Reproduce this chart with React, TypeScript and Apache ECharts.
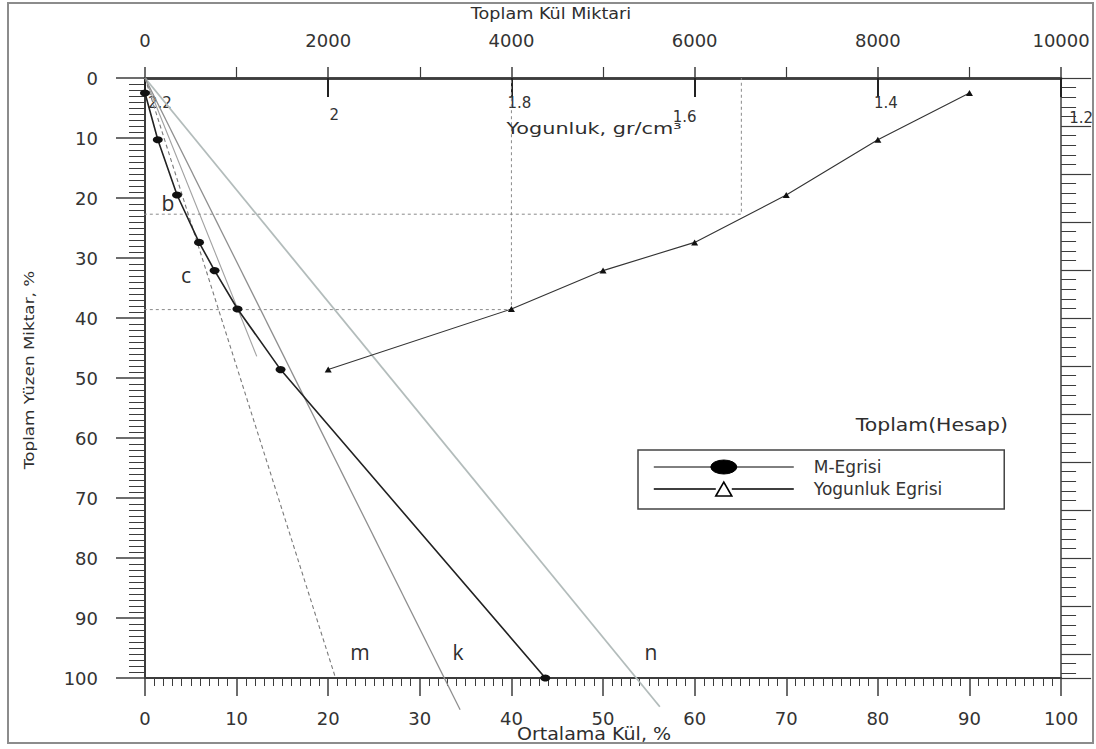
import React, { useEffect, useRef } from "react";
import * as echarts from "echarts";

// M-Egrisi (Ortalama Kül %, Toplam Yüzen Miktar %)
const mAsh = [0, 1.4, 3.5, 5.9, 7.6, 10.1, 14.8, 43.7];
const mFloat = [2.5, 10.3, 19.5, 27.4, 32.1, 38.5, 48.6, 100];
// Yogunluk Egrisi (Toplam Kül Miktari, Toplam Yüzen Miktar %)
const dAsh = [9000, 8000, 7000, 6000, 5000, 4000, 2000];
const dFloat = [2.5, 10.3, 19.5, 27.4, 32.1, 38.5, 48.6];
// density tick labels
const densityTicks = [2.2, 2.0, 1.8, 1.6, 1.4, 1.2];
// straight construction lines m, k, n and tangent
const lineM = [[0, 0], [20.8, 100]];
const lineK = [[0, 0], [34.4, 105.3]];
const lineN = [[0, 0], [56.2, 104.8]];
const lineT = [[0, 0], [12.2, 46.4]];
// dashed guides (Toplam Kül Miktari, %)
const guide1 = [[-930, 22.7], [6510, 22.7], [6510, 0]];
const guide2 = [[-930, 38.6], [4000, 38.6], [4000, 0]];

const AX = "#3c3c3c";
const FONT = "DejaVu Sans";
const lbl = { color: "#333", fontFamily: FONT, fontSize: 18 };

const densityRich: any = {
  r0: { padding: [0, 0, 0, 30], fontSize: 15, fontFamily: FONT, color: "#333" },
  r1: { padding: [12, 0, 0, 12], fontSize: 15, fontFamily: FONT, color: "#333" },
  r2: { padding: [0, 0, 0, 16], fontSize: 15, fontFamily: FONT, color: "#333" },
  r3: { padding: [14, 20, 0, 0], fontSize: 15, fontFamily: FONT, color: "#333" },
  r4: { padding: [0, 0, 0, 16], fontSize: 15, fontFamily: FONT, color: "#333" },
  r5: { padding: [15, 0, 0, 40], fontSize: 15, fontFamily: FONT, color: "#333" },
};

function txt(text: string, x: number, y: number, size: number, align: string, extra: any = {}) {
  return {
    type: "text",
    x,
    y,
    z: 100,
    ...extra,
    style: {
      text,
      fill: "#2e2e2e",
      font: `${size}px "${extra.family || FONT}"`,
      textAlign: align,
      textVerticalAlign: "middle",
      align,
      verticalAlign: "middle",
    },
  };
}

export default function App() {
  const ref = useRef<HTMLDivElement>(null);
  useEffect(() => {
    if (!ref.current) return;
    const chart = echarts.init(ref.current, null, { renderer: "svg" });
    const grayLine = (name: string, data: number[][], color: string, width: number, type: any = "solid") => ({
      name,
      type: "line",
      data,
      xAxisIndex: 0,
      yAxisIndex: 0,
      symbol: "none",
      clip: false,
      silent: true,
      z: 1,
      lineStyle: { color, width, type },
    });
    const plain = (v: number) => String(v);
    const option: any = {
      animation: false,
      backgroundColor: "#fff",
      grid: { left: 145, top: 78, width: 917, height: 600, containLabel: false },
      xAxis: [
        {
          type: "value",
          position: "bottom",
          min: 0,
          max: 100,
          interval: 10,
          axisLine: { show: true, onZero: false, lineStyle: { color: AX, width: 2 } },
          axisTick: { show: true, length: 18, lineStyle: { color: AX, width: 1.5 } },
          minorTick: { show: true, splitNumber: 10, length: 8, lineStyle: { color: AX, width: 1 } },
          axisLabel: { ...lbl, margin: 31, formatter: plain },
          splitLine: { show: false },
        },
        {
          type: "value",
          position: "top",
          min: 0,
          max: 10000,
          interval: 2000,
          axisLine: { show: true, onZero: false, lineStyle: { color: AX, width: 2.5 } },
          axisTick: { show: true, length: 11, lineStyle: { color: AX, width: 1.5 } },
          minorTick: { show: true, splitNumber: 2, length: 11, lineStyle: { color: AX, width: 1.2 } },
          axisLabel: { ...lbl, margin: 29, formatter: plain },
          splitLine: { show: false },
        },
        {
          type: "value",
          position: "top",
          min: 1.2,
          max: 2.2,
          interval: 0.2,
          inverse: true,
          axisLine: { show: true, onZero: false, lineStyle: { color: AX, width: 2.5 } },
          axisTick: { show: true, inside: true, length: 19, lineStyle: { color: "#222", width: 2 } },
          splitLine: { show: false },
          axisLabel: {
            inside: true,
            margin: 17,
            interval: 0,
            showMinLabel: true,
            showMaxLabel: true,
            hideOverlap: false,
            fontSize: 15,
            fontFamily: FONT,
            color: "#333",
            rich: densityRich,
            formatter: (v: number) => {
              const i = densityTicks.findIndex((t) => Math.abs(t - v) < 1e-6);
              if (i < 0) return "";
              return `{r${i}|${String(densityTicks[i])}}`;
            },
          },
        },
      ],
      yAxis: [
        {
          type: "value",
          position: "left",
          inverse: true,
          min: 0,
          max: 100,
          interval: 10,
          axisLine: { show: true, onZero: false, lineStyle: { color: AX, width: 2 } },
          axisTick: { show: true, length: 29, lineStyle: { color: AX, width: 1.5 } },
          minorTick: { show: true, splitNumber: 10, length: 16, lineStyle: { color: AX, width: 1 } },
          axisLabel: { ...lbl, margin: 47, formatter: plain },
          splitLine: { show: false },
        },
        {
          type: "value",
          position: "right",
          inverse: true,
          min: 0,
          max: 100,
          interval: 8,
          axisLine: { show: true, onZero: false, lineStyle: { color: AX, width: 1.5 } },
          axisTick: { show: true, length: 30, lineStyle: { color: AX, width: 1.2 } },
          minorTick: { show: true, splitNumber: 5, length: 15, lineStyle: { color: AX, width: 1 } },
          axisLabel: { show: false },
          splitLine: { show: false },
        },
      ],
      legend: {
        data: [
          {
            name: "M-Egrisi",
            icon: "path://M0 7L58 7M82 7L140 7M57 7A13 7 0 1 0 83 7A13 7 0 1 0 57 7Z",
            itemStyle: { color: "#000", borderColor: "#000", borderWidth: 1 },
          },
          {
            name: "Yogunluk Egrisi",
            icon: "path://M0 7L62 7M78 7L140 7M62 13L70 1L78 13Z",
            itemStyle: { color: "#fff", borderColor: "#000", borderWidth: 1.6 },
          },
        ],
        orient: "vertical",
        left: 638,
        top: 450,
        itemWidth: 140,
        itemHeight: 14,
        itemGap: 4,
        symbolKeepAspect: false,
        selectedMode: false,
        padding: [8, 62, 11, 15],
        borderColor: "#444",
        borderWidth: 1.5,
        backgroundColor: "#fff",
        textStyle: { fontFamily: FONT, fontSize: 17, color: "#333", padding: [0, 0, 0, 15], lineHeight: 18 },
      },
      series: [
        grayLine("n", lineN, "#b3bcbb", 1.8),
        grayLine("k", lineK, "#8e8e8e", 1.3),
        grayLine("t", lineT, "#a0a0a0", 1.1),
        grayLine("m", lineM, "#7a7a7a", 1.1, [4, 3]),
        {
          name: "g1",
          type: "line",
          data: guide1,
          xAxisIndex: 1,
          yAxisIndex: 0,
          symbol: "none",
          clip: false,
          silent: true,
          z: 1,
          lineStyle: { color: "#8a8a8a", width: 1, type: [3, 3] },
        },
        {
          name: "g2",
          type: "line",
          data: guide2,
          xAxisIndex: 1,
          yAxisIndex: 0,
          symbol: "none",
          clip: false,
          silent: true,
          z: 1,
          lineStyle: { color: "#8a8a8a", width: 1, type: [3, 3] },
        },
        {
          name: "M-Egrisi",
          type: "line",
          xAxisIndex: 0,
          yAxisIndex: 0,
          data: mAsh.map((x, i) => [x, mFloat[i]]),
          symbol: "circle",
          symbolSize: [10, 7],
          itemStyle: { color: "#111" },
          lineStyle: { color: "#222", width: 1.6 },
          z: 5,
        },
        {
          name: "Yogunluk Egrisi",
          type: "line",
          xAxisIndex: 1,
          yAxisIndex: 0,
          data: dAsh.map((x, i) => [x, dFloat[i]]),
          symbol: "triangle",
          symbolSize: [7, 6],
          itemStyle: { color: "#111" },
          lineStyle: { color: "#333", width: 1.1 },
          z: 5,
        },
      ],
      graphic: [
        {
          type: "rect",
          z: 0,
          shape: { x: 8, y: 3, width: 1085, height: 740 },
          style: { fill: "none", stroke: "#8c8c8c", lineWidth: 2 },
        },
        txt("Toplam Kül Miktari", 551, 13, 16, "center", { scaleX: 1.1 }),
        txt("Ortalama Kül, %", 594, 734, 17, "center", { scaleX: 1.12 }),
        txt("Toplam Yüzen Miktar, %", 29, 370, 14, "center", { rotation: Math.PI / 2, scaleX: 1.2 }),
        txt("Yogunluk, gr/cm³", 594, 128, 16, "center", { scaleX: 1.3 }),
        txt("Toplam(Hesap)", 1008, 425, 17, "right", { scaleX: 1.2 }),
        txt("b", 168, 203, 21, "center", { family: "Open Sans" }),
        txt("c", 186, 275, 21, "center", { family: "Open Sans" }),
        txt("m", 360, 652, 21, "center", { family: "Open Sans" }),
        txt("k", 458, 652, 21, "center", { family: "Open Sans" }),
        txt("n", 651, 652, 21, "center", { family: "Open Sans" }),
      ],
    };
    chart.setOption(option);
    return () => chart.dispose();
  }, []);
  return (
    <div
      ref={ref}
      style={{ position: "fixed", left: 0, top: 0, width: 1096, height: 749, background: "#fff" }}
    />
  );
}
